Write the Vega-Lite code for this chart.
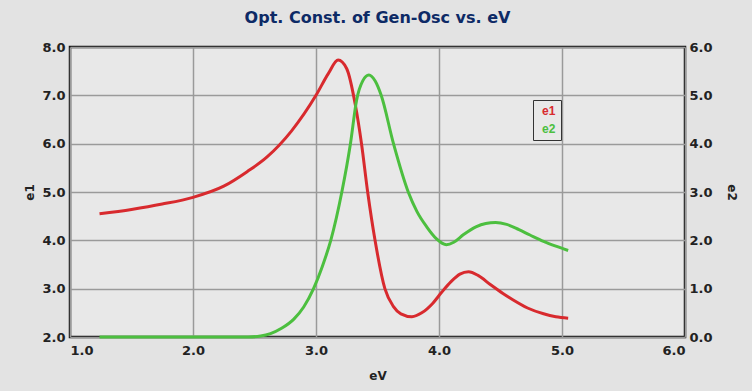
{
  "$schema": "https://vega.github.io/schema/vega-lite/v6.json",
  "width": 615,
  "height": 290,
  "autosize": {"type": "none"},
  "padding": {"left": 70, "top": 47, "right": 67, "bottom": 54},
  "background": "#e3e3e3",
  "title": {
    "text": "Opt. Const. of Gen-Osc vs. eV",
    "fontSize": 16,
    "fontWeight": "bold",
    "font": "DejaVu Sans",
    "color": "#0d2a66",
    "anchor": "middle",
    "frame": "group",
    "offset": 15
  },
  "config": {
    "view": {"fill": "#e8e8e8", "stroke": "#111111", "strokeWidth": 2.5},
    "axis": {
      "labelFont": "DejaVu Sans",
      "labelFontWeight": "bold",
      "labelFontSize": 13,
      "labelColor": "#222222",
      "titleFont": "DejaVu Sans",
      "titleFontWeight": "bold",
      "titleFontSize": 12,
      "titleColor": "#222222",
      "tickSize": 0,
      "domain": false,
      "gridColor": "#9a9a9a",
      "gridWidth": 1.5,
      "gridOpacity": 1
    }
  },
  "data": {
    "values": [
      {"eV": 1.24, "v": 4.55, "s": "e1"},
      {"eV": 1.5, "v": 4.64, "s": "e1"},
      {"eV": 1.75, "v": 4.75, "s": "e1"},
      {"eV": 2.0, "v": 4.89, "s": "e1"},
      {"eV": 2.25, "v": 5.12, "s": "e1"},
      {"eV": 2.44, "v": 5.42, "s": "e1"},
      {"eV": 2.6, "v": 5.72, "s": "e1"},
      {"eV": 2.8, "v": 6.26, "s": "e1"},
      {"eV": 3.0, "v": 7.0, "s": "e1"},
      {"eV": 3.1, "v": 7.45, "s": "e1"},
      {"eV": 3.18, "v": 7.73, "s": "e1"},
      {"eV": 3.25, "v": 7.55, "s": "e1"},
      {"eV": 3.32, "v": 6.8, "s": "e1"},
      {"eV": 3.37, "v": 6.0, "s": "e1"},
      {"eV": 3.42, "v": 5.0, "s": "e1"},
      {"eV": 3.48, "v": 4.0, "s": "e1"},
      {"eV": 3.56, "v": 3.0, "s": "e1"},
      {"eV": 3.63, "v": 2.63, "s": "e1"},
      {"eV": 3.69, "v": 2.48, "s": "e1"},
      {"eV": 3.78, "v": 2.42, "s": "e1"},
      {"eV": 3.86, "v": 2.5, "s": "e1"},
      {"eV": 3.95, "v": 2.7, "s": "e1"},
      {"eV": 4.02, "v": 2.92, "s": "e1"},
      {"eV": 4.1, "v": 3.15, "s": "e1"},
      {"eV": 4.17, "v": 3.3, "s": "e1"},
      {"eV": 4.24, "v": 3.35, "s": "e1"},
      {"eV": 4.32, "v": 3.27, "s": "e1"},
      {"eV": 4.42, "v": 3.08, "s": "e1"},
      {"eV": 4.52, "v": 2.9, "s": "e1"},
      {"eV": 4.6, "v": 2.77, "s": "e1"},
      {"eV": 4.72, "v": 2.6, "s": "e1"},
      {"eV": 4.85, "v": 2.48, "s": "e1"},
      {"eV": 4.95, "v": 2.42, "s": "e1"},
      {"eV": 5.05, "v": 2.39, "s": "e1"},
      {"eV": 1.24, "v": 0.0, "s": "e2"},
      {"eV": 1.5, "v": 0.0, "s": "e2"},
      {"eV": 2.0, "v": 0.0, "s": "e2"},
      {"eV": 2.45, "v": 0.0, "s": "e2"},
      {"eV": 2.55, "v": 0.02, "s": "e2"},
      {"eV": 2.63, "v": 0.07, "s": "e2"},
      {"eV": 2.72, "v": 0.18, "s": "e2"},
      {"eV": 2.82, "v": 0.37, "s": "e2"},
      {"eV": 2.9, "v": 0.62, "s": "e2"},
      {"eV": 2.98, "v": 1.0, "s": "e2"},
      {"eV": 3.05, "v": 1.45, "s": "e2"},
      {"eV": 3.12, "v": 2.0, "s": "e2"},
      {"eV": 3.21, "v": 3.0, "s": "e2"},
      {"eV": 3.28, "v": 4.0, "s": "e2"},
      {"eV": 3.33, "v": 4.9, "s": "e2"},
      {"eV": 3.38, "v": 5.3, "s": "e2"},
      {"eV": 3.43, "v": 5.42, "s": "e2"},
      {"eV": 3.48, "v": 5.3, "s": "e2"},
      {"eV": 3.53, "v": 5.0, "s": "e2"},
      {"eV": 3.63, "v": 4.0, "s": "e2"},
      {"eV": 3.75, "v": 3.0, "s": "e2"},
      {"eV": 3.82, "v": 2.6, "s": "e2"},
      {"eV": 3.9, "v": 2.28, "s": "e2"},
      {"eV": 3.98, "v": 2.03, "s": "e2"},
      {"eV": 4.06, "v": 1.91, "s": "e2"},
      {"eV": 4.12, "v": 1.96, "s": "e2"},
      {"eV": 4.2, "v": 2.12, "s": "e2"},
      {"eV": 4.3, "v": 2.28, "s": "e2"},
      {"eV": 4.38, "v": 2.35, "s": "e2"},
      {"eV": 4.46, "v": 2.37, "s": "e2"},
      {"eV": 4.55, "v": 2.33, "s": "e2"},
      {"eV": 4.65, "v": 2.22, "s": "e2"},
      {"eV": 4.74, "v": 2.11, "s": "e2"},
      {"eV": 4.85, "v": 1.98, "s": "e2"},
      {"eV": 4.95, "v": 1.88, "s": "e2"},
      {"eV": 5.05, "v": 1.79, "s": "e2"}
    ]
  },
  "encoding": {
    "x": {
      "field": "eV",
      "type": "quantitative",
      "scale": {"domain": [1, 6], "nice": false, "zero": false},
      "axis": {"values": [1, 2, 3, 4, 5, 6], "format": ".1f", "title": "eV", "labelPadding": 7, "titlePadding": 13}
    },
    "color": {
      "field": "s",
      "type": "nominal",
      "scale": {"domain": ["e1", "e2"], "range": ["#d82a2e", "#4cbf3f"]},
      "legend": {
        "title": null,
        "orient": "none",
        "legendX": 463,
        "legendY": 53,
        "symbolSize": 0,
        "symbolStrokeWidth": 0,
        "symbolOpacity": 0,
        "labelOffset": -8,
        "labelFont": "Liberation Sans",
        "labelFontWeight": "bold",
        "labelFontSize": 12,
        "rowPadding": 6,
        "padding": 5,
        "strokeColor": "#333333",
        "fillColor": "#e8e8e8",
        "encode": {
          "labels": {"update": {"fill": {"signal": "datum.value === 'e1' ? '#d82a2e' : '#4cbf3f'"}}}
        }
      }
    }
  },
  "layer": [
    {
      "transform": [{"filter": "datum.s === 'e1'"}],
      "mark": {"type": "line", "interpolate": "monotone", "strokeWidth": 3},
      "encoding": {
        "y": {
          "field": "v",
          "type": "quantitative",
          "scale": {"domain": [2, 8], "nice": false, "zero": false},
          "axis": {"orient": "left", "values": [2, 3, 4, 5, 6, 7, 8], "format": ".1f", "title": "e1", "labelPadding": 5, "titlePadding": 5}
        }
      }
    },
    {
      "transform": [{"filter": "datum.s === 'e2'"}],
      "mark": {"type": "line", "interpolate": "monotone", "strokeWidth": 3},
      "encoding": {
        "y": {
          "field": "v",
          "type": "quantitative",
          "scale": {"domain": [0, 6], "nice": false, "zero": false},
          "axis": {"orient": "right", "values": [0, 1, 2, 3, 4, 5, 6], "format": ".1f", "title": "e2", "grid": false, "labelPadding": 4, "titlePadding": 12}
        }
      }
    }
  ],
  "resolve": {"scale": {"y": "independent"}}
}
